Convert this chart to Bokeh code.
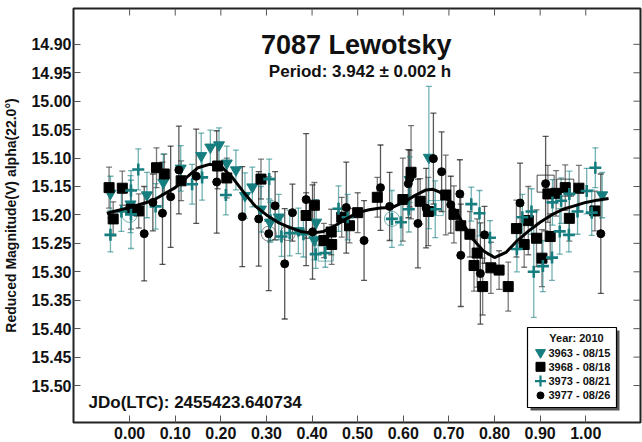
from bokeh.plotting import figure
from bokeh.models import (Range1d, Whisker, TeeHead, ColumnDataSource, Label,
                          FixedTicker, NumeralTickFormatter, BoxAnnotation)
from bokeh.embed import file_html
from bokeh.resources import INLINE

# ---------------- data ----------------
# 3963 - 08/15 (inverted triangles)
s63_x = [-0.042, 0.002, 0.038, 0.074, 0.112, 0.157, 0.177, 0.196, 0.213, 0.233, 0.253,
         0.269, 0.288, 0.308, 0.327, 0.370, 0.405, 0.409, 0.614, 0.656, 1.036]
s63_y = [15.162, 15.181, 15.165, 15.143, 15.118, 15.096, 15.081, 15.077, 15.109, 15.121, 15.166,
         15.151, 15.190, 15.213, 15.204, 15.228, 15.244, 15.213, 15.138, 15.099, 15.165]
s63_e = [0.030, 0.050, 0.040, 0.050, 0.040, 0.040, 0.030, 0.030, 0.030, 0.035, 0.040,
         0.035, 0.040, 0.035, 0.040, 0.040, 0.035, 0.040, 0.040, 0.125, 0.040]

# 3968 - 08/18 (squares)
s68_x = [-0.045, -0.036, -0.016, 0.003, 0.020, 0.059, 0.076, 0.113, 0.193, 0.213, 0.288,
         0.387, 0.405, 0.426, 0.443, 0.442, 0.465, 0.482, 0.500, 0.543, 0.599, 0.617,
         0.637, 0.655, 0.693, 0.711, 0.726, 0.746, 0.755, 0.762, 0.774, 0.792, 0.810,
         0.830, 0.848, 0.865, 0.874, 0.892, 0.904, 0.917, 0.922, 0.935, 0.955, 0.964,
         0.985, 1.020]
s68_y = [15.152, 15.207, 15.153, 15.190, 15.193, 15.117, 15.128, 15.140, 15.114, 15.135, 15.137,
         15.201, 15.183, 15.245, 15.252, 15.230, 15.204, 15.219, 15.196, 15.169, 15.173, 15.125,
         15.176, 15.194, 15.165, 15.199, 15.219, 15.234, 15.289, 15.267, 15.326, 15.293, 15.297,
         15.326, 15.224, 15.252, 15.210, 15.241, 15.276, 15.163, 15.238, 15.162, 15.152, 15.206,
         15.153, 15.193]
s68_e = [0.036, 0.030, 0.030, 0.035, 0.030, 0.035, 0.035, 0.035, 0.040, 0.035, 0.035,
         0.040, 0.040, 0.030, 0.035, 0.040, 0.035, 0.030, 0.035, 0.035, 0.073, 0.082,
         0.040, 0.060, 0.070, 0.050, 0.050, 0.040, 0.045, 0.060, 0.050, 0.045, 0.034,
         0.043, 0.050, 0.040, 0.060, 0.050, 0.050, 0.050, 0.040, 0.040, 0.040, 0.040,
         0.040, 0.035]

# 3973 - 08/21 (crosses)
s73_x = [-0.042, -0.018, 0.003, 0.019, 0.003, 0.057, 0.137, 0.159, 0.211, 0.306, 0.309,
         0.333, 0.351, 0.381, 0.408, 0.429, 0.458, 0.478, 0.575, 0.595, 0.612, 0.670,
         0.749, 0.767, 0.790, 0.849, 0.861, 0.881, 0.886, 0.906, 0.926, 0.927, 0.943,
         0.946, 0.963, 0.964, 0.982, 1.002, 1.021, 1.013]
s73_y = [15.235, 15.194, 15.157, 15.120, 15.199, 15.185, 15.146, 15.134, 15.165, 15.137, 15.210,
         15.238, 15.232, 15.234, 15.269, 15.267, 15.189, 15.204, 15.207, 15.213, 15.190, 15.190,
         15.181, 15.197, 15.240, 15.260, 15.204, 15.194, 15.300, 15.290, 15.275, 15.178, 15.229,
         15.175, 15.235, 15.163, 15.194, 15.158, 15.117, 15.196]
s73_e = [0.030, 0.035, 0.035, 0.036, 0.060, 0.040, 0.035, 0.040, 0.035, 0.035, 0.035,
         0.035, 0.040, 0.040, 0.025, 0.025, 0.040, 0.040, 0.050, 0.040, 0.040, 0.050,
         0.030, 0.040, 0.030, 0.040, 0.040, 0.040, 0.080, 0.045, 0.040, 0.040, 0.040,
         0.040, 0.030, 0.040, 0.040, 0.040, 0.035, 0.040]

# 3977 - 08/26 (circles)
s77_x = [0.032, 0.051, 0.072, 0.090, 0.108, 0.146, 0.191, 0.247, 0.283, 0.305, 0.319,
         0.340, 0.357, 0.387, 0.401, 0.475, 0.514, 0.550, 0.570, 0.611, 0.614, 0.632,
         0.650, 0.666, 0.684, 0.704, 0.724, 0.726, 0.769, 0.778, 0.856, 0.912, 1.033]
s77_y = [15.233, 15.178, 15.197, 15.168, 15.121, 15.132, 15.142, 15.203, 15.207, 15.233, 15.184,
         15.286, 15.196, 15.173, 15.230, 15.187, 15.245, 15.152, 15.185, 15.145, 15.136, 15.215,
         15.188, 15.101, 15.124, 15.182, 15.163, 15.271, 15.303, 15.235, 15.179, 15.145, 15.233]
s77_e = [0.083, 0.050, 0.090, 0.089, 0.077, 0.083, 0.090, 0.088, 0.083, 0.100, 0.060,
         0.097, 0.050, 0.116, 0.083, 0.080, 0.070, 0.075, 0.060, 0.060, 0.050, 0.078,
         0.070, 0.080, 0.070, 0.050, 0.060, 0.090, 0.089, 0.050, 0.070, 0.083, 0.105]

# phase-wrapped duplicates (hollow markers)
hc_black_x = [0.305, 0.347]
hc_black_y = [15.233, 15.232]
hc_teal_x = [0.000, 0.575]
hc_teal_y = [15.200, 15.207]
hs_black_x = [0.912, 0.955]
hs_black_y = [15.145, 15.152]
hs_teal_x = [0.430, 0.671]
hs_teal_y = [15.268, 15.188]

# Fourier fit curve
fit_x = [-0.05, 0.0, 0.05, 0.10, 0.125, 0.15, 0.175, 0.20, 0.225, 0.25, 0.275, 0.30,
         0.325, 0.35, 0.375, 0.40, 0.425, 0.45, 0.475, 0.50, 0.525, 0.55, 0.575, 0.60,
         0.625, 0.65, 0.665, 0.68, 0.70, 0.725, 0.75, 0.775, 0.80, 0.825, 0.85, 0.875,
         0.90, 0.925, 0.95, 0.975, 1.00, 1.025, 1.05]
fit_y = [15.197, 15.187, 15.175, 15.152, 15.134, 15.117, 15.111, 15.114, 15.134, 15.160,
         15.184, 15.200, 15.213, 15.222, 15.229, 15.232, 15.229, 15.219, 15.207, 15.196,
         15.191, 15.188, 15.187, 15.178, 15.166, 15.156, 15.155, 15.160, 15.175, 15.207,
         15.240, 15.263, 15.275, 15.266, 15.245, 15.228, 15.213, 15.200, 15.190, 15.184,
         15.178, 15.174, 15.171]

x_ticks = [0.0, 0.1, 0.2, 0.3, 0.4, 0.5, 0.6, 0.7, 0.8, 0.9, 1.0]
y_ticks = [14.90, 14.95, 15.00, 15.05, 15.10, 15.15, 15.20, 15.25, 15.30, 15.35, 15.40, 15.45, 15.50]

title_text = "7087 Lewotsky"
period_text = "Period: 3.942 \u00b1 0.002 h"
jd_text = "JDo(LTC): 2455423.640734"
y_label = "Reduced Magnitude(V) alpha(22.0\u00b0)"
legend_title = "Year: 2010"
series_names = ["3963 - 08/15", "3968 - 08/18", "3973 - 08/21", "3977 - 08/26"]

# ---------------- style / layout ----------------
TEAL = "#177e80"
FONT = "Liberation Sans"
X0, X1 = -0.123, 1.12
Y0, Y1 = 14.837, 15.565          # top, bottom (magnitude axis reversed)
FW, FH = 567, 414                # frame size in px
PX_X = (X1 - X0) / FW            # data units per px
PX_Y = (Y1 - Y0) / FH

def sx(px):  # frame-relative px -> data x
    return X0 + px * PX_X

def sy(py):  # frame-relative px (from top) -> data y
    return Y0 + py * PX_Y

p = figure(width=642, height=442, output_backend="svg", toolbar_location=None,
           x_range=Range1d(X0, X1), y_range=Range1d(Y1, Y0),
           min_border_left=73, min_border_right=2, min_border_top=8, min_border_bottom=20,
           background_fill_color="white", border_fill_color="white")
p.xgrid.visible = False
p.ygrid.visible = False
p.outline_line_color = "#222222"
p.outline_line_width = 2

for ax, ticks in ((p.xaxis[0], x_ticks), (p.yaxis[0], y_ticks)):
    ax.ticker = FixedTicker(ticks=ticks)
    ax.formatter = NumeralTickFormatter(format="0.00")
    ax.axis_line_color = None
    ax.major_tick_in = 7
    ax.major_tick_out = 0
    ax.major_tick_line_color = "#555555"
    ax.minor_tick_line_color = None
    ax.major_label_text_font = FONT
    ax.major_label_text_font_style = "bold"
    ax.major_label_text_font_size = "16px"
    ax.major_label_text_color = "#111111"
p.yaxis[0].major_label_standoff = 2
p.xaxis[0].major_label_standoff = 4
p.yaxis[0].axis_label = y_label
p.yaxis[0].axis_label_text_font = FONT
p.yaxis[0].axis_label_text_font_style = "bold"
p.yaxis[0].axis_label_text_font_size = "14px"
p.yaxis[0].axis_label_text_color = "#111111"
p.yaxis[0].axis_label_standoff = 9

# inside ticks on the top and right edges of the frame
p.segment(x0=x_ticks, x1=x_ticks, y0=[Y0] * len(x_ticks), y1=[Y0 + 7 * PX_Y] * len(x_ticks),
          line_color="#555555", line_width=1)
p.segment(x0=[X1] * len(y_ticks), x1=[X1 - 7 * PX_X] * len(y_ticks), y0=y_ticks, y1=y_ticks,
          line_color="#555555", line_width=1)

# error bars
def errbars(xs, ys, es, color, alpha):
    src = ColumnDataSource(dict(x=xs, lo=[y - e for y, e in zip(ys, es)],
                                hi=[y + e for y, e in zip(ys, es)]))
    w = Whisker(source=src, base="x", lower="lo", upper="hi", dimension="height",
                line_color=color, line_alpha=alpha, line_width=1.3,
                upper_head=TeeHead(size=6, line_color=color, line_alpha=alpha, line_width=1.3),
                lower_head=TeeHead(size=6, line_color=color, line_alpha=alpha, line_width=1.3))
    p.add_layout(w)

errbars(s68_x, s68_y, s68_e, "#333333", 0.65)
errbars(s77_x, s77_y, s77_e, "#222222", 0.75)
errbars(s63_x, s63_y, s63_e, TEAL, 0.6)
errbars(s73_x, s73_y, s73_e, TEAL, 0.6)

# hollow duplicates
p.scatter(hc_black_x, hc_black_y, marker="circle", size=15, fill_color=None,
          line_color="#333333", line_alpha=0.6, line_width=1)
p.scatter(hc_teal_x, hc_teal_y, marker="circle", size=15, fill_color=None,
          line_color=TEAL, line_alpha=0.6, line_width=1)
p.scatter(hs_black_x, hs_black_y, marker="square", size=17, fill_color=None,
          line_color="#222222", line_alpha=0.8, line_width=1)
p.scatter(hs_teal_x, hs_teal_y, marker="square", size=15, fill_color=None,
          line_color=TEAL, line_alpha=0.6, line_width=1)

STYLES = [dict(marker="inverted_triangle", size=11, fill_color=TEAL, line_color=TEAL),
          dict(marker="square", size=10, fill_color="black", line_color="black"),
          dict(marker="cross", size=12, line_color=TEAL, line_width=2.6),
          dict(marker="circle", size=8, fill_color="black", line_color="black")]
for (xs, ys), st in zip([(s63_x, s63_y), (s68_x, s68_y), (s73_x, s73_y), (s77_x, s77_y)], STYLES):
    p.scatter(xs, ys, **st)

p.line(fit_x, fit_y, line_color="black", line_width=3)

# texts
p.add_layout(Label(x=0.497, y=14.902, text=title_text, text_align="center",
                   text_baseline="alphabetic", text_font=FONT, text_font_style="bold",
                   text_font_size="27px", text_color="#111111"))
p.add_layout(Label(x=0.505, y=14.947, text=period_text, text_align="center",
                   text_baseline="alphabetic", text_font=FONT, text_font_style="bold",
                   text_font_size="17px", text_color="#111111"))
p.add_layout(Label(x=-0.090, y=15.529, text=jd_text, text_align="left",
                   text_baseline="alphabetic", text_font=FONT, text_font_style="bold",
                   text_font_size="17px", text_color="#111111"))

# legend (drawn by hand so the symbols keep their size), frame-relative px
LB_L, LB_R, LB_T, LB_B = 454, 543, 319, 399
p.add_layout(BoxAnnotation(left=sx(LB_L + 3), right=sx(LB_R + 3), top=sy(LB_T + 3),
                           bottom=sy(LB_B + 3), fill_color="#555555", fill_alpha=1,
                           line_color=None))
p.add_layout(BoxAnnotation(left=sx(LB_L), right=sx(LB_R), top=sy(LB_T), bottom=sy(LB_B),
                           fill_color="white", fill_alpha=1, line_color="black",
                           line_width=1.2, line_alpha=1))
p.add_layout(Label(x=sx(LB_L + 49), y=sy(LB_T + 10), text=legend_title, text_align="center",
                   text_baseline="middle", text_font=FONT, text_font_style="bold",
                   text_font_size="11px", text_color="#111111"))
for i, (name, st) in enumerate(zip(series_names, STYLES)):
    row = LB_T + 25 + i * 14.3
    icon = dict(st)
    icon["size"] = {"inverted_triangle": 10, "square": 9, "cross": 11, "circle": 7}[st["marker"]]
    if st["marker"] == "cross":
        icon["line_width"] = 2.2
    r = p.scatter([sx(LB_L + 13)], [sy(row)], **icon)
    r.level = "overlay"
    p.add_layout(Label(x=sx(LB_L + 21), y=sy(row), text=name, text_align="left",
                       text_baseline="middle", text_font=FONT, text_font_style="bold",
                       text_font_size="11px", text_color="#111111"))

open("out.html", "w").write(file_html(p, INLINE))
